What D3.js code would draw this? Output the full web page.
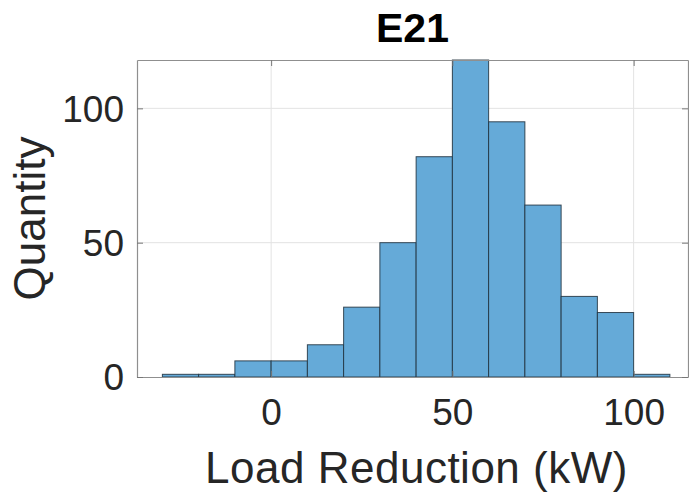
<!DOCTYPE html>
<html>
<head>
<meta charset="utf-8">
<script src="https://cdn.jsdelivr.net/npm/d3@7"></script>
<style>
  html, body { margin: 0; padding: 0; background: #fff; }
  svg { display: block; }
  text { font-family: "Liberation Sans", Arial, Helvetica, sans-serif; fill: #262626; }
</style>
</head>
<body>
<svg id="chart" width="689" height="494"></svg>
<script>
// Histogram bin edges (kW) and counts per bin
const binEdges = [-30, -20, -10, 0, 10, 20, 30, 40, 50, 60, 70, 80, 90, 100, 110];
const binCounts = [1, 1, 6, 6, 12, 26, 50, 82, 118, 95, 64, 30, 24, 1];

const xTicks = [0, 50, 100];
const yTicks = [0, 50, 100];
const xLimits = [-37, 115];
const yLimits = [0, 118];

const titleText = "E21";
const xLabel = "Load Reduction (kW)";
const yLabel = "Quantity";

const svg = d3.select("#chart");
const plot = { left: 137, right: 688, top: 60, bottom: 377 };

const x = d3.scaleLinear().domain(xLimits).range([plot.left, plot.right]);
const y = d3.scaleLinear().domain(yLimits).range([plot.bottom, plot.top]);

const bins = binCounts.map((c, i) => ({ x0: binEdges[i], x1: binEdges[i + 1], count: c }));

// grid lines
const grid = svg.append("g");
grid.selectAll("line.gx").data(xTicks).join("line")
  .attr("x1", d => x(d)).attr("x2", d => x(d))
  .attr("y1", plot.top).attr("y2", plot.bottom)
  .attr("stroke", "#e3e3e3").attr("stroke-width", 1);
grid.selectAll("line.gy").data(yTicks.filter(d => d > 0)).join("line")
  .attr("y1", d => y(d)).attr("y2", d => y(d))
  .attr("x1", plot.left).attr("x2", plot.right)
  .attr("stroke", "#e3e3e3").attr("stroke-width", 1);

// bars
svg.append("g").selectAll("rect").data(bins).join("rect")
  .attr("x", d => x(d.x0))
  .attr("width", d => x(d.x1) - x(d.x0))
  .attr("y", d => y(d.count))
  .attr("height", d => y(0) - y(d.count))
  .attr("fill", "#65aad8")
  .attr("stroke", "#1f2f3c")
  .attr("stroke-opacity", 0.85)
  .attr("stroke-width", 1);

// axes (ticks point inward, box on)
const axisColor = "#8f8f8f";
const xAxis = svg.append("g").attr("transform", `translate(0,${plot.bottom})`)
  .call(d3.axisBottom(x).tickValues(xTicks).tickSizeInner(-6).tickSizeOuter(0).tickPadding(22));
const yAxis = svg.append("g").attr("transform", `translate(${plot.left},0)`)
  .call(d3.axisLeft(y).tickValues(yTicks).tickSizeInner(-6).tickSizeOuter(0).tickPadding(13));
const topAxis = svg.append("g").attr("transform", `translate(0,${plot.top})`)
  .call(d3.axisTop(x).tickValues(xTicks).tickSizeInner(-6).tickSizeOuter(0).tickFormat(""));
const rightAxis = svg.append("g").attr("transform", `translate(${plot.right},0)`)
  .call(d3.axisRight(y).tickValues(yTicks).tickSizeInner(-6).tickSizeOuter(0).tickFormat(""));

[xAxis, yAxis, topAxis, rightAxis].forEach(g => {
  g.select(".domain").attr("stroke", axisColor).attr("stroke-width", 1.2);
  g.selectAll(".tick line").attr("stroke", "#777");
  g.selectAll(".tick text")
    .style("font-family", '"Liberation Sans", Arial, sans-serif')
    .attr("font-size", 37).attr("fill", "#262626");
});
xAxis.selectAll(".tick text").attr("dy", "0.71em");
yAxis.selectAll(".tick text").attr("dy", "0.35em");

// title and labels
svg.append("text")
  .attr("x", (plot.left + plot.right) / 2).attr("y", 42)
  .attr("text-anchor", "middle")
  .attr("font-size", 41).attr("font-weight", "bold")
  .style("fill", "#000")
  .text(titleText);

svg.append("text")
  .attr("x", (plot.left + plot.right) / 2 + 4).attr("y", 483)
  .attr("text-anchor", "middle")
  .attr("font-size", 44)
  .attr("letter-spacing", 0.5)
  .text(xLabel);

svg.append("text")
  .attr("transform", `translate(45,${(plot.top + plot.bottom) / 2}) rotate(-90)`)
  .attr("text-anchor", "middle")
  .attr("font-size", 44)
  .text(yLabel);
</script>
</body>
</html>
